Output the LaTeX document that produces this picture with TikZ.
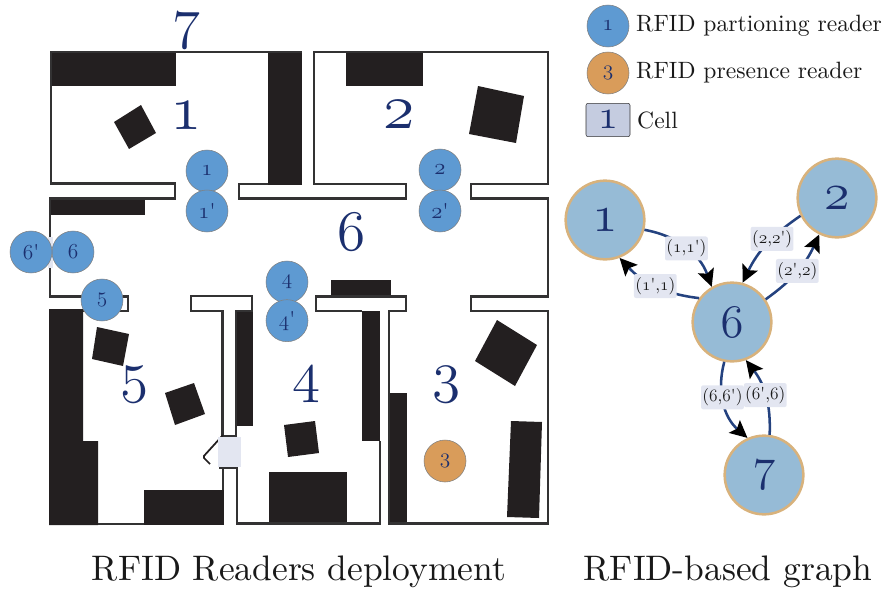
\documentclass[tikz,border=0pt]{standalone}
\usepackage{tikz}
\usetikzlibrary{shapes,arrows.meta}
\usetikzlibrary{positioning}
\definecolor{wallblack}{HTML}{231F20}
\definecolor{wallline}{HTML}{333233}
\definecolor{digitblue}{HTML}{1B2F6E}
\definecolor{edgeblue}{HTML}{24427F}
\definecolor{readerblue}{HTML}{5E9AD2}
\definecolor{readerorange}{HTML}{D99C5A}
\definecolor{cellblue}{HTML}{96BBD6}
\definecolor{cellring}{HTML}{D8B27C}
\definecolor{paleblue}{HTML}{E3E6F1}
\definecolor{legendcell}{HTML}{C5CCE0}
\font\roomdigit=cmmi12 at 43pt
\font\roomdigitlow=cmmi12 at 48pt
\font\graphdigit=cmmi12 at 35pt
\font\graphdigitlow=cmmi12 at 39pt
\font\readerdigit=cmmi12 at 16pt
\font\readerdigitlow=cmmi12 at 17pt
\font\legendcelldigit=cmmi12 at 31pt
\font\labeldigit=cmmi12 at 13pt
\font\capfont="[lmroman10-regular]" at 26.6pt
\font\legfont="[lmroman10-regular]" at 17.7pt
\font\labelfont="[lmroman10-regular]" at 13pt
\font\primefont="[lmroman10-regular]" at 16pt
\newcommand{\readerprime}{{\primefont'}}
\newcommand{\ld}[1]{{\labeldigit #1}}
\tikzstyle{wall} = [draw=wallline, line width=2pt, line join=miter]
\tikzstyle{block} = [fill=wallblack]
\tikzstyle{reader} = [draw=gray, thin, circle, fill=readerblue, text=digitblue,
    minimum size=31.5pt, inner sep=0pt, font=\readerdigit]
\tikzstyle{room} = [text=digitblue, inner sep=0pt, font=\roomdigit]
\tikzstyle{cell} = [draw=cellring, line width=1.9pt, circle, fill=cellblue,
    text=digitblue, minimum size=59pt, inner sep=0pt, font=\graphdigit]
\tikzstyle{edge} = [draw=edgeblue, line width=1.9pt, -{Stealth[black,length=13pt,width=12.5pt,inset=2.5pt]}]
\tikzstyle{edgelabel} = [fill=paleblue, rounded corners=1.5pt, inner xsep=1pt, inner ysep=2.5pt,
    text=black!90, font=\labelfont]
\tikzstyle{legendtext} = [inner sep=0pt, text=black!90, font=\legfont]
\tikzstyle{caption} = [inner sep=0pt, anchor=base, text=black!90, font=\capfont]

\begin{document}
\begin{tikzpicture}[x=0.75pt, y=0.75pt, node distance = 30pt]
  \useasboundingbox (0,0) rectangle (884,-589);

  \fill [block] (50,-51) rectangle (176,-86);
  \fill [block] (268,-51) rectangle (302,-185);
  \fill [block] (346,-51) rectangle (423,-85.5);
  \fill [block] (50,-199) rectangle (145,-215);
  \fill [block] (331,-280) rectangle (391,-296);
  \fill [block] (362,-311) rectangle (380,-441);
  \fill [block] (236,-311) rectangle (253,-426);
  \fill [block] (269,-472) rectangle (347,-524);
  \fill [block] (389,-393) rectangle (407,-524);
  \fill [block] (144,-490) rectangle (224,-525);
  \fill [block] (49,-309) -- (83,-309) -- (83,-441) -- (98,-441) -- (98,-525) -- (49,-525) -- cycle;

  \fill [block] (114,-122) -- (141,-105) -- (156,-133) -- (129,-149) -- cycle;
  \fill [block] (478,-86) -- (524,-96) -- (516,-143) -- (469,-134) -- cycle;
  \fill [block] (97,-327) -- (129,-334) -- (123,-366) -- (92,-359) -- cycle;
  \fill [block] (165,-393) -- (194,-383) -- (205,-414) -- (175,-425) -- cycle;
  \fill [block] (284,-425) -- (315,-421) -- (319,-453) -- (288,-457) -- cycle;
  \fill [block] (497,-320) -- (537,-345) -- (515,-386) -- (475,-361) -- cycle;
  \fill [block] (511,-421) -- (542,-422) -- (539,-518) -- (507,-517) -- cycle;

  \draw [wall] (302,-52) -- (51,-52) -- (51,-183.5) -- (175,-183.5) -- (175,-198.5) -- (50,-198.5) -- (50,-237);
  \draw [wall] (268,-184) -- (239,-184) -- (239,-198.5) -- (406,-198.5) -- (406,-184) -- (314,-184) -- (314,-52)
    -- (548,-52) -- (548,-184) -- (471,-184) -- (471,-198.5) -- (548,-198.5) -- (548,-296.5) -- (471,-296.5)
    -- (471,-311) -- (548,-311) -- (548,-523.5) -- (389,-523.5) -- (389,-311) -- (406,-311) -- (406,-296.5)
    -- (316,-296.5) -- (316,-311) -- (362,-311);
  \draw [wall] (50,-268) -- (50,-296.5) -- (128,-296.5) -- (128,-311) -- (83,-311);
  \draw [wall] (222.5,-311) -- (191,-311) -- (191,-296) -- (252,-296) -- (252,-311) -- (236,-311) -- (236,-436)
    -- (222.5,-436) -- cycle;
  \draw [wall] (219,-468) -- (237,-468) -- (237,-523.5) -- (380,-523.5) -- (380,-441);
  \draw [wall] (223,-468) -- (223,-490);
  \draw [wall] (98,-524) -- (144,-524);
  \draw [draw=wallblack, line width=1.3pt, rounded corners=1pt] (223,-435) -- (203,-457) -- (210,-464);
  \fill [paleblue] (218,-437) rectangle (241,-467);
  \fill [paleblue] (48,-237) rectangle (53,-268);

  \node [room] (n7) at (187,-31) {7};
  \node [room, font=\roomdigitlow] (n1) at (186,-116) {1};
  \node [room, font=\roomdigitlow] (n2) at (399,-115) {2};
  \node [room] (n6) at (352,-232) {6};
  \node [room] (n5) at (135,-385) {5};
  \node [room] (n4) at (307,-385) {4};
  \node [room] (n3) at (447,-385) {3};

  \node [reader, font=\readerdigitlow] (r1) at (207,-171) {1};
  \node [reader, font=\readerdigitlow, below of=r1] (r1p) {1\readerprime};
  \node [reader, font=\readerdigitlow] (r2) at (440,-170) {2};
  \node [reader, font=\readerdigitlow, below of=r2, node distance=30.75pt] (r2p) {2\readerprime};
  \node [reader] (r4) at (287,-282) {4};
  \node [reader, below of=r4, node distance=29pt] (r4p) {4\readerprime};
  \node [reader] (r6) at (73,-252) {6};
  \node [reader, left of=r6, node distance=31.5pt] (r6p) {6\readerprime};
  \node [reader] (r5) at (102,-300) {5};
  \node [reader, fill=readerorange] (r3) at (445,-461) {3};

  \node [reader, font=\readerdigitlow] (leg1) at (608,-26) {1};
  \node [reader, fill=readerorange, below of=leg1, node distance=35.25pt] (leg2) {3};
  \node [draw=wallline, fill=legendcell, text=digitblue, rounded corners=1.5pt, minimum width=33pt,
    minimum height=25pt, inner sep=0pt, font=\legendcelldigit, below of=leg2, node distance=35.25pt] (leg3) {1};
  \node [legendtext, right=5pt of leg1] (legt1) {RFID partioning reader};
  \node [legendtext, right=5pt of leg2] (legt2) {RFID presence reader};
  \node [legendtext, right=5pt of leg3] (legt3) {Cell};

  \node [cell, font=\graphdigitlow] (g1) at (605,-220) {1};
  \node [cell, font=\graphdigitlow] (g2) at (837,-198) {2};
  \node [cell] (g6) at (732,-322) {6};
  \node [cell] (g7) at (764,-475) {7};

  \draw [edge] (g1.-14) to [bend left=30] node [edgelabel] (l11) {(\ld{1},\ld{1}')} (g6.120);
  \draw [edge] (g6.144) to [bend left=20] node [edgelabel] (l12) {(\ld{1}',\ld{1})} (g1.-69);
  \draw [edge] (g2.206) to [bend right=15] node [edgelabel, pos=0.4] (l21) {(\ld{2},\ld{2}')} (g6.75);
  \draw [edge] (g6.34) to [bend right=15] node [edgelabel] (l22) {(\ld{2}',\ld{2})} (g2.244);
  \draw [edge] (g6.259) to [bend right=32] node [edgelabel, pos=0.42] (l61) {(\ld{6},\ld{6}')} (g7.114);
  \draw [edge] (g7.82) to [bend right=20] node [edgelabel] (l62) {(\ld{6}',\ld{6})} (g6.-70);

  \node [caption] (cap1) at (299,-580) {RFID Readers deployment};
  \node [caption] (cap2) at (728,-580) {RFID-based graph};
\end{tikzpicture}
\end{document}
